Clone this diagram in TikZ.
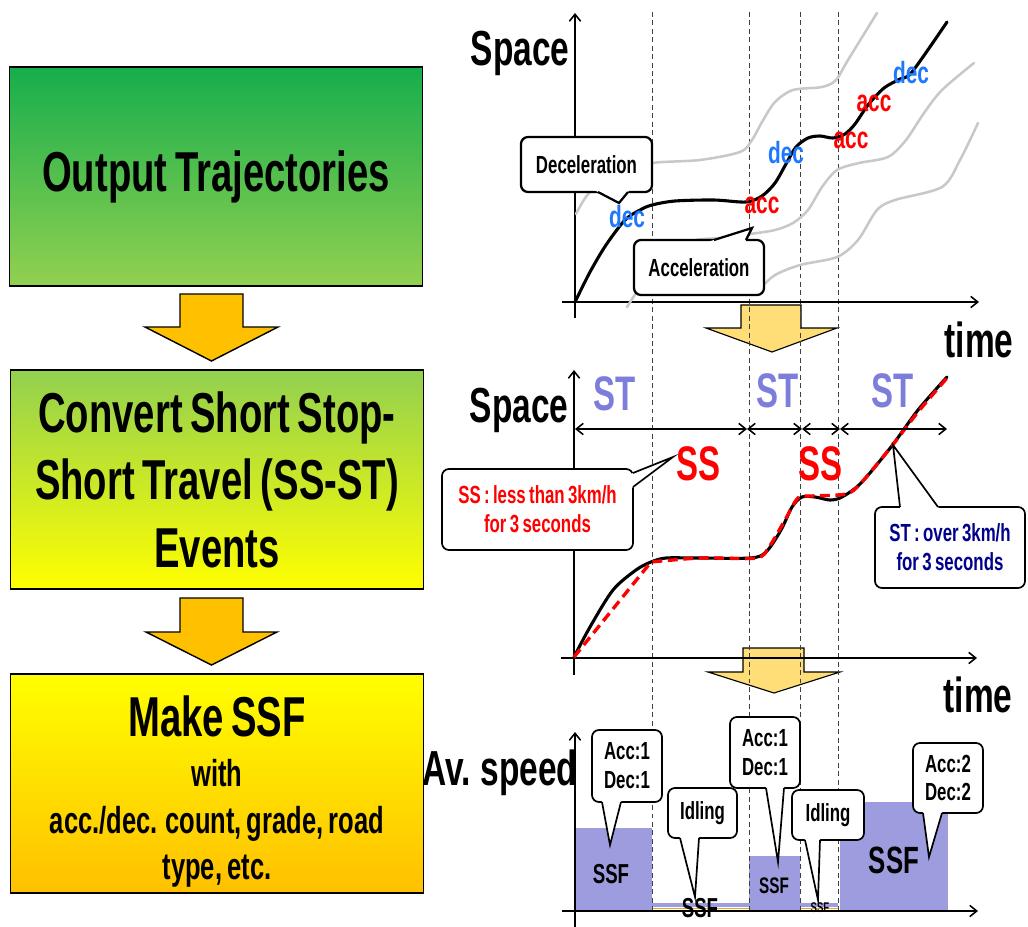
\documentclass[tikz,border=0pt]{standalone}
\usepackage{fontspec}
\setmainfont{Liberation Sans}[FakeStretch=0.68, WordSpace=0.72]
\usepackage{tikz}
\usetikzlibrary{arrows.meta, calc}
\definecolor{trjgreen}{RGB}{22,174,76}
\definecolor{trjlime}{RGB}{146,208,80}
\definecolor{trjyellow}{RGB}{255,255,0}
\definecolor{trjorange}{RGB}{255,192,0}
\definecolor{passyellow}{RGB}{255,222,120}
\definecolor{decblue}{RGB}{30,120,255}
\definecolor{stlav}{RGB}{125,125,220}
\definecolor{barlav}{RGB}{156,156,222}
\definecolor{stnavy}{RGB}{0,0,140}
\definecolor{idleorange}{RGB}{228,168,30}
\definecolor{ghostgray}{RGB}{200,200,200}
\newcommand{\fsz}[2]{\bfseries\fontsize{#1}{#2}\selectfont}
\newcommand{\bubbletip}[4][1.2pt]{%
  \fill[white] ($#2!-6pt!#3$) -- #3 -- ($#4!-6pt!#3$) -- cycle;
  \draw[line width=#1, line join=miter] #2 -- #3 -- #4;}

\begin{document}
\begin{tikzpicture}[x=0.025cm, y=-0.025cm,
    every node/.style={align=center, inner sep=0pt},
    flowbox/.style={draw, line width=1.3pt, minimum width=10.325cm, minimum height=5.475cm},
    blockarrow/.style={draw, line width=1pt, fill=trjorange},
    passarrow/.style={draw, line width=0.8pt, fill=passyellow},
    axisline/.style={line width=1.1pt, -{Straight Barb[length=5pt, width=8pt]}},
    guide/.style={dash pattern=on 3.5pt off 2.5pt, line width=0.6pt, black!75},
    trackmain/.style={line width=2.2pt, line cap=round, line join=round},
    trackghost/.style={line width=1.8pt, ghostgray, line cap=round},
    ssfit/.style={red, line width=2.4pt, dash pattern=on 7pt off 4pt},
    stspan/.style={line width=1.1pt, {Straight Barb[length=5pt, width=8pt]}-{Straight Barb[length=5pt, width=8pt]}},
    bubble/.style={draw, fill=white, rounded corners=5pt, line width=1.2pt, font=\fsz{17.6}{20.5}},
    axislabel/.style={anchor=base, font=\fsz{35}{40}},
    evtag/.style={anchor=base, font=\fsz{21.8}{24}},
    phase/.style={anchor=base, font=\fsz{34.5}{40}}
  ]
  \useasboundingbox (0,0) rectangle (1028,927);

  % flow on the left
  \node[flowbox, top color=trjgreen, bottom color=trjlime, font=\fsz{40}{48}] (traj) at (216,176.5) {Output Trajectories};
  \node[flowbox, top color=trjlime, bottom color=trjyellow, font=\fsz{40}{48}] (conv) at (217,479.5)
    {Convert Short Stop-\\Short Travel (SS-ST)\\Events};
  \node[flowbox, top color=trjyellow, bottom color=trjorange, font=\fsz{26.7}{33}] (make) at (217,783.5)
    {{\fontsize{40}{44}\selectfont\rule{0pt}{40pt}Make SSF}\\[3pt] with\\ acc./dec. count, grade, road\\ type, etc.};
  \draw[blockarrow] (180,294) -- (243,294) -- (243,327) -- (278,327) -- (211.5,361) -- (145,327) -- (180,327) -- cycle;
  \draw[blockarrow] (180,598) -- (243,598) -- (243,632) -- (277,632) -- (211.5,665) -- (146,632) -- (180,632) -- cycle;

  % arrows between the panels
  \draw[passarrow] (741,305) -- (801,305) -- (801,328) -- (837,328) -- (772,352) -- (706,328) -- (741,328) -- cycle;
  \draw[passarrow] (743,648) -- (804,648) -- (804,672) -- (840,672) -- (774,693) -- (708,672) -- (743,672) -- cycle;

  % average speed bars
  \fill[barlav] (576,828) rectangle (652,911);
  \fill[barlav] (652,903) rectangle (749,907);
  \fill[barlav] (749,856) rectangle (800,911);
  \fill[barlav] (800,903) rectangle (838,907);
  \fill[barlav] (840,802) rectangle (948,911);
  \draw[idleorange, line width=1.4pt] (652,908.5) -- (749,908.5) (800,908.5) -- (838,908.5);

  % time marks
  \foreach \xpos in {652,749,800,838}
    \draw[guide] (\xpos,12) -- (\xpos,910);

  % axes
  \draw[axisline] (575,318) -- (575,13);
  \draw[axisline] (562,302) -- (979,302);
  \draw[axisline] (574,675) -- (574,370);
  \draw[axisline] (561,658) -- (977,658);
  \draw[axisline] (575,927) -- (575,732);
  \draw[axisline] (562,911) -- (978,911);

  % trajectories
  \draw[trackghost] plot[smooth] coordinates {(576,214) (590,192) (620,172) (652,163) (700,160) (740,152) (752,140) (762,122) (775,102) (793,90) (822,87) (836,80) (848,60) (877,13)};
  \draw[trackghost] plot[smooth] coordinates {(627,307) (645,280) (665,258) (692,241) (720,238) (750,234) (775,230) (793,223) (808,210) (822,187) (837,170) (859,163) (888,157) (906,140) (924,113) (942,90) (974,63)};
  \draw[trackghost] plot[smooth] coordinates {(745,294) (760,288) (775,275) (800,265) (837,257) (858,240) (877,210) (895,200) (942,187) (960,160) (978,123)};
  \draw[trackmain] plot[smooth] coordinates {(575,302) (590,272) (606,245) (625,220) (640,210) (652,205) (675,201) (714,200) (746,202) (762,196) (775,183) (786,164) (796,147) (808,138) (820,136) (833,138) (845,134) (855,124) (868,105) (884,88) (900,79) (912,72) (947,22)};
  \draw[trackmain] plot[smooth] coordinates {(574,657) (590,627) (613,590) (636,570) (651,562) (666,558) (697,558) (750,558) (766,552) (781,530) (792,507) (802,497) (815,497) (830,500) (842,497) (861,483) (891,447) (918,410) (947,377)};
  \draw[ssfit] (574,657) -- plot[smooth] coordinates {(651,562) (700,558) (756,558) (769,547) (785,520) (798,498) (812,496) (846,494) (861,483) (891,447) (918,412) (947,378)};

  % SS / ST spans
  \coordinate (s0) at (575,429);
  \coordinate (s1) at (747,429);
  \coordinate (s2) at (802,429);
  \coordinate (s3) at (840,429);
  \coordinate (s4) at (947,429);
  \foreach \a/\b in {s0/s1, s1/s2, s2/s3, s3/s4}
    \draw[stspan] (\a) -- (\b);

  % callouts
  \node[bubble, line width=1.6pt, minimum width=3.275cm, minimum height=1.375cm] (decl) at (586.5,164.5) {Deceleration};
  \bubbletip[1.6pt]{(598,192)}{(619,203)}{(628,192)}
  \node[bubble, line width=1.6pt, minimum width=3.25cm, minimum height=1.375cm] (accl) at (699,267.5) {Acceleration};
  \bubbletip[1.6pt]{(714,240)}{(752,228)}{(746,240)}
  \node[bubble, text=red, minimum width=4.775cm, minimum height=2.025cm] (ssnote) at (537.5,509.5)
    {SS : less than 3km/h\\for 3 seconds};
  \bubbletip{(633,473)}{(673,457)}{(633,487)}
  \node[bubble, text=stnavy, minimum width=3.75cm, minimum height=2.025cm] (stnote) at (950,547.5)
    {ST : over 3km/h\\for 3 seconds};
  \bubbletip{(900,507)}{(893,445)}{(938,507)}
  \node[bubble, minimum width=1.75cm, minimum height=1.8cm] (count1) at (627,766) {Acc:1\\Dec:1};
  \bubbletip{(602,802)}{(610,845)}{(621,802)}
  \node[bubble, minimum width=1.725cm, minimum height=1.25cm] (idle1) at (702.5,813) {Idling};
  \bubbletip{(680,838)}{(695,897)}{(699,838)}
  \node[bubble, minimum width=1.75cm, minimum height=1.775cm] (count2) at (765,752.5) {Acc:1\\Dec:1};
  \bubbletip{(766,788)}{(778,862)}{(784,788)}
  \node[bubble, minimum width=1.8cm, minimum height=1.25cm] (idle2) at (828,815) {Idling};
  \bubbletip{(805,840)}{(818,900)}{(820,840)}
  \node[bubble, minimum width=1.75cm, minimum height=1.75cm] (count3) at (948,778) {Acc:2\\Dec:2};
  \bubbletip{(923,813)}{(929,857)}{(942,813)}

  % labels
  \node[axislabel] (space1) at (520,65) {Space};
  \node[axislabel] (time1) at (979,357) {time};
  \node[axislabel] (space2) at (519,422) {Space};
  \node[axislabel] (time2) at (978,712) {time};
  \node[axislabel] (speed) at (500,785) {Av. speed};
  \node[phase, stlav] (st1) at (615,410) {ST};
  \node[phase, stlav] (st2) at (778,407) {ST};
  \node[phase, stlav] (st3) at (893,407) {ST};
  \node[phase, red] (ss1) at (698,480) {SS};
  \node[phase, red] (ss2) at (820,480) {SS};
  \node[evtag, decblue] (dec1) at (627,227) {dec};
  \node[evtag, red] (acc1) at (762,213) {acc};
  \node[evtag, decblue] (dec2) at (786,163) {dec};
  \node[evtag, red] (acc2) at (851,148) {acc};
  \node[evtag, red] (acc3) at (874,111) {acc};
  \node[evtag, decblue] (dec3) at (911,83) {dec};
  \node[font=\fsz{19.5}{20}] (ssf1) at (611,874) {SSF};
  \node[font=\fsz{19.5}{20}] (ssf2) at (700,908) {SSF};
  \node[font=\fsz{16}{17}] (ssf3) at (774,886) {SSF};
  \node[font=\fsz{10}{11}] (ssf4) at (820,908) {SSF};
  \node[font=\fsz{27}{28}] (ssf5) at (894,860) {SSF};
\end{tikzpicture}
\end{document}
